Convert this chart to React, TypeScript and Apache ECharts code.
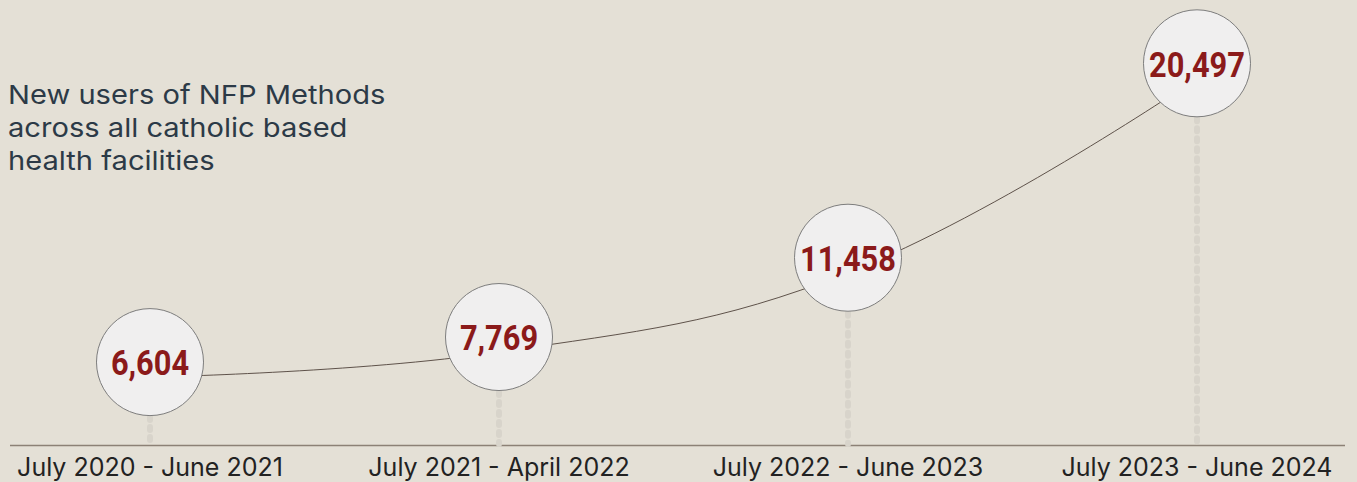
import React, { useEffect, useRef } from "react";
import * as echarts from "echarts";

const periods = [
  "July 2020 - June 2021",
  "July 2021 - April 2022",
  "July 2022 - June 2023",
  "July 2023 - June 2024",
];
const newUsers = [6604, 7769, 11458, 20497];
const titleLines = [
  "New users of NFP Methods",
  "across all catholic based",
  "health facilities",
];

const Y_MIN = 3400;
const Y_MAX = 22000;

export default function App() {
  const ref = useRef<HTMLDivElement>(null);
  useEffect(() => {
    if (!ref.current) return;
    const chart = echarts.init(ref.current, null, { renderer: "svg" });
    chart.setOption({
      animation: false,
      backgroundColor: "#e4e0d6",
      grid: { left: 150, right: 160, top: 46, bottom: 36 },
      xAxis: {
        type: "category",
        data: periods,
        boundaryGap: false,
        axisLine: { show: false },
        axisTick: { show: false },
        axisLabel: {
          interval: 0,
          margin: 8,
          fontSize: 25,
          fontFamily: "Inter",
          color: "#222222",
        },
      },
      yAxis: {
        type: "value",
        min: Y_MIN,
        max: Y_MAX,
        show: false,
        splitLine: { show: false },
      },
      graphic: [
        {
          type: "line",
          shape: { x1: 10, y1: 445.5, x2: 1345, y2: 445.5 },
          style: { stroke: "#8c8176", lineWidth: 1.5 },
          z: 0,
        },
        {
          type: "text",
          x: 8,
          y: 78,
          scaleX: 1.12,
          style: {
            text: titleLines.join("\n"),
            font: "26px Inter",
            lineHeight: 33,
            fill: "#2c3a47",
            verticalAlign: "top",
          },
        },
      ],
      series: [
        {
          type: "custom",
          z: 1,
          silent: true,
          data: newUsers.map((v, i) => [i, v]),
          renderItem: (params: any, api: any) => {
            const top = api.coord([api.value(0), api.value(1)]);
            const bottom = api.coord([api.value(0), Y_MIN]);
            return {
              type: "line",
              shape: { x1: top[0], y1: top[1], x2: bottom[0], y2: bottom[1] - 2 },
              style: {
                stroke: "#d8d4cb",
                lineWidth: 6,
                lineDash: [3, 7],
                lineCap: "round",
              },
            };
          },
        },
        {
          type: "line",
          z: 2,
          data: newUsers,
          smooth: 0.4,
          symbol: "none",
          lineStyle: { color: "#5e524a", width: 1 },
        },
        {
          type: "custom",
          z: 3,
          silent: true,
          data: newUsers.map((v, i) => [i, v]),
          renderItem: (params: any, api: any) => {
            const p = api.coord([api.value(0), api.value(1)]);
            const cx = p[0];
            const cy = p[1] - 15;
            const label = Number(api.value(1)).toLocaleString("en-US");
            return {
              type: "group",
              children: [
                {
                  type: "circle",
                  shape: { cx, cy, r: 53.5 },
                  style: { fill: "#f0efef", stroke: "#7d7d7d", lineWidth: 1 },
                },
                {
                  type: "text",
                  x: cx,
                  y: cy + 1,
                  scaleX: 0.88,
                  style: {
                    text: label,
                    x: 0,
                    y: 0,
                    align: "center",
                    verticalAlign: "middle",
                    font: "bold 35px Roboto",
                    fill: "#8b1a1a",
                  },
                },
              ],
            };
          },
        },
      ],
    });
    return () => chart.dispose();
  }, []);
  return (
    <div
      ref={ref}
      style={{ position: "absolute", left: 0, top: 0, width: 1357, height: 482 }}
    />
  );
}
